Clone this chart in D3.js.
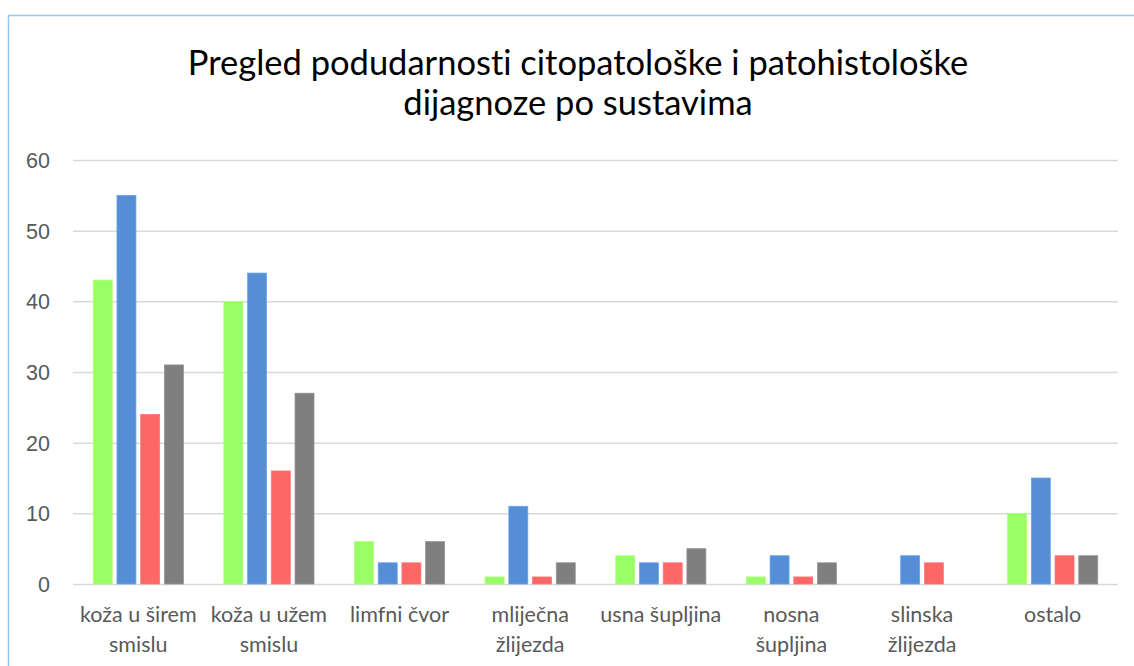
<!DOCTYPE html>
<html>
<head>
<meta charset="utf-8">
<script src="https://cdn.jsdelivr.net/npm/d3@7"></script>
<style>
  body { margin: 0; background: #fff; }
  svg { display: block; font-family: Lato, "Open Sans", sans-serif; font-variant-ligatures: none; }
  .grid line { stroke: #d9d9d9; stroke-width: 1.5px; }
  .axis text { fill: #595959; font-size: 21.5px; }
</style>
</head>
<body>
<div id="chart"></div>
<script>
'use strict';

// categories (line breaks as in the original)
var categories = [
  'koža u širem smislu', 'koža u užem smislu', 'limfni čvor', 'mliječna žlijezda',
  'usna šupljina', 'nosna šupljina', 'slinska žlijezda', 'ostalo'
];
var categoryLines = [
  [ 'koža u širem', 'smislu' ], [ 'koža u užem', 'smislu' ], [ 'limfni čvor' ],
  [ 'mliječna', 'žlijezda' ], [ 'usna šupljina' ], [ 'nosna', 'šupljina' ],
  [ 'slinska', 'žlijezda' ], [ 'ostalo' ]
];

// four series, no legend in the original
var seriesGreen = [ 43, 40, 6, 1, 4, 1, 0, 10 ];
var seriesBlue  = [ 55, 44, 3, 11, 3, 4, 4, 15 ];
var seriesRed   = [ 24, 16, 3, 1, 3, 1, 3, 4 ];
var seriesGray  = [ 31, 27, 6, 3, 5, 3, 0, 4 ];
var yTicks = [ 0, 10, 20, 30, 40, 50, 60 ];

var series = [ seriesGreen, seriesBlue, seriesRed, seriesGray ];
var colors = [ '#99ff66', '#558ed5', '#ff6666', '#7f7f7f' ];

var baseWidth = 1134,
    baseHeight = 666,
    margin = { top: 160, right: 16, bottom: 82, left: 73 };

var width = baseWidth - margin.left - margin.right,
    height = baseHeight - margin.top - margin.bottom;

var svg = d3.select( '#chart' )
  .append( 'svg' )
    .attr( 'width', baseWidth )
    .attr( 'height', baseHeight );

// chart border
svg.append( 'rect' )
  .attr( 'x', 8.5 )
  .attr( 'y', 15.5 )
  .attr( 'width', 1300 )
  .attr( 'height', 800 )
  .attr( 'fill', 'none' )
  .attr( 'stroke', '#9dc3e6' )
  .attr( 'stroke-width', 1.5 );

// title
var title = svg.append( 'text' )
  .attr( 'text-anchor', 'middle' )
  .attr( 'x', 578 )
  .style( 'font-size', '34.5px' )
  .style( 'fill', '#000' );
title.append( 'tspan' ).attr( 'x', 578 ).attr( 'y', 75 )
  .text( 'Pregled podudarnosti citopatološke i patohistološke' );
title.append( 'tspan' ).attr( 'x', 578 ).attr( 'y', 115 )
  .text( 'dijagnoze po sustavima' );

var g = svg.append( 'g' )
  .attr( 'transform', 'translate(' + margin.left + ',' + margin.top + ')' );

var x = d3.scaleBand()
  .domain( categories )
  .range( [ 0, width ] )
  .paddingInner( 0.31 )
  .paddingOuter( 0.155 );

var xs = d3.scaleBand()
  .domain( d3.range( series.length ) )
  .range( [ 0, x.bandwidth() ] )
  .paddingInner( 0.2 );

var y = d3.scaleLinear()
  .domain( [ 0, 60 ] )
  .range( [ height, 0 ] );

// gridlines
g.append( 'g' )
  .classed( 'grid', true )
  .call( d3.axisLeft( y ).tickValues( yTicks ).tickSize( -width ).tickFormat( '' ) )
  .call( function( s ) { s.select( '.domain' ).remove(); } );

// y labels
g.append( 'g' )
  .classed( 'axis', true )
  .call( d3.axisLeft( y ).tickValues( yTicks ).tickSize( 0 ).tickPadding( 23 ) )
  .call( function( s ) {
    s.select( '.domain' ).remove();
    s.selectAll( 'text' ).attr( 'dy', '0.35em' );
  } );

// bars
series.forEach( function( values, si ) {
  g.append( 'g' )
    .selectAll( 'rect' )
    .data( values )
    .enter()
    .append( 'rect' )
      .attr( 'x', function( d, i ) { return x( categories[i] ) + xs( si ); } )
      .attr( 'y', function( d ) { return y( d ); } )
      .attr( 'width', xs.bandwidth() )
      .attr( 'height', function( d ) { return height - y( d ); } )
      .attr( 'fill', colors[si] )
      .attr( 'stroke', d3.color( colors[si] ).brighter( 0.4 ) )
      .attr( 'stroke-width', 0.75 )
      .style( 'display', function( d ) { return d > 0 ? null : 'none'; } );
} );

// x labels
var xAxis = g.append( 'g' )
  .classed( 'axis', true )
  .attr( 'transform', 'translate(0,' + height + ')' );

categories.forEach( function( c, i ) {
  var t = xAxis.append( 'text' )
    .attr( 'text-anchor', 'middle' )
    .attr( 'x', x( c ) + x.bandwidth() / 2 );
  categoryLines[i].forEach( function( line, li ) {
    t.append( 'tspan' )
      .attr( 'x', x( c ) + x.bandwidth() / 2 )
      .attr( 'y', 38 + li * 30 )
      .text( line );
  } );
} );
</script>
</body>
</html>
